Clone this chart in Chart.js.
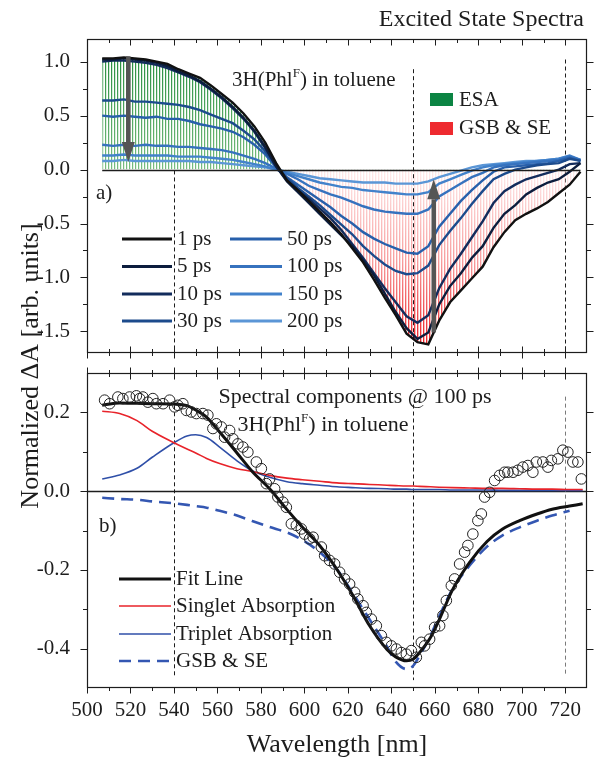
<!DOCTYPE html>
<html><head><meta charset="utf-8">
<script src="https://cdn.jsdelivr.net/npm/chart.js@4.4.0/dist/chart.umd.min.js"></script>
<style>
html,body{margin:0;padding:0;background:#fff;}
#wrap{position:relative;width:597px;height:761px;overflow:hidden;}
#wrap canvas{position:absolute;left:0;top:0;}
</style></head><body>
<div id="wrap"><canvas id="c1" width="597" height="761"></canvas><canvas id="c2" width="597" height="761"></canvas></div>
<script>
// ---------- DATA ----------
const wavelengths = [507,512,517,522,527,532,537,542,547,552,557,562,567,572,577,582,587,592,597,602,607,612,617,622,627,632,637,642,647,652,657,662,667,672,677,682,687,692,697,702,707,712,717,722,727];
const ps1   = [1.03,1.03,1.04,1.03,1.02,1.00,0.98,0.93,0.89,0.85,0.78,0.70,0.62,0.52,0.40,0.25,0.06,-0.10,-0.19,-0.29,-0.39,-0.49,-0.60,-0.73,-0.86,-1.02,-1.19,-1.35,-1.52,-1.60,-1.62,-1.40,-1.23,-1.12,-1.01,-0.90,-0.72,-0.58,-0.47,-0.41,-0.36,-0.30,-0.22,-0.14,-0.02];
const ps5   = [1.02,1.02,1.03,1.02,1.01,0.99,0.96,0.91,0.87,0.82,0.75,0.67,0.58,0.48,0.36,0.21,0.03,-0.11,-0.21,-0.31,-0.41,-0.51,-0.61,-0.71,-0.84,-0.98,-1.15,-1.32,-1.47,-1.57,-1.51,-1.25,-1.08,-0.96,-0.82,-0.71,-0.54,-0.41,-0.33,-0.23,-0.17,-0.12,-0.09,-0.02,0.06];
const ps10  = [1.00,1.01,1.01,1.00,0.99,0.97,0.94,0.90,0.86,0.81,0.74,0.66,0.57,0.47,0.35,0.20,0.03,-0.10,-0.19,-0.27,-0.36,-0.45,-0.56,-0.69,-0.82,-0.96,-1.10,-1.23,-1.36,-1.42,-1.35,-1.10,-0.92,-0.78,-0.63,-0.48,-0.31,-0.20,-0.14,-0.09,-0.06,-0.03,0.00,0.05,0.06];
const ps30  = [0.64,0.64,0.65,0.63,0.63,0.62,0.61,0.60,0.58,0.55,0.51,0.47,0.43,0.36,0.28,0.17,0.03,-0.08,-0.17,-0.25,-0.33,-0.42,-0.51,-0.60,-0.71,-0.80,-0.88,-0.94,-0.97,-0.96,-0.89,-0.70,-0.57,-0.45,-0.32,-0.20,-0.09,-0.04,0.00,0.02,0.04,0.05,0.06,0.10,0.08];
const ps50  = [0.50,0.49,0.50,0.49,0.48,0.49,0.47,0.47,0.45,0.42,0.40,0.38,0.35,0.30,0.23,0.14,0.02,-0.07,-0.14,-0.21,-0.28,-0.35,-0.43,-0.50,-0.58,-0.64,-0.69,-0.73,-0.77,-0.78,-0.71,-0.53,-0.41,-0.29,-0.19,-0.10,-0.02,0.02,0.03,0.04,0.05,0.06,0.08,0.11,0.08];
const ps100 = [0.23,0.22,0.23,0.22,0.23,0.22,0.22,0.21,0.21,0.20,0.19,0.18,0.16,0.13,0.10,0.06,0.01,-0.04,-0.09,-0.15,-0.19,-0.23,-0.26,-0.30,-0.34,-0.37,-0.39,-0.40,-0.41,-0.41,-0.37,-0.25,-0.19,-0.13,-0.07,-0.03,0.02,0.04,0.05,0.06,0.07,0.08,0.09,0.12,0.09];
const ps150 = [0.13,0.13,0.14,0.13,0.13,0.13,0.13,0.12,0.12,0.12,0.11,0.10,0.09,0.07,0.05,0.03,0.00,-0.03,-0.06,-0.09,-0.12,-0.14,-0.16,-0.17,-0.19,-0.20,-0.21,-0.22,-0.23,-0.23,-0.21,-0.13,-0.09,-0.05,-0.01,0.02,0.04,0.05,0.06,0.07,0.08,0.09,0.10,0.13,0.09];
const ps200 = [0.08,0.08,0.09,0.08,0.08,0.08,0.08,0.08,0.08,0.07,0.07,0.06,0.05,0.04,0.03,0.02,0.00,-0.02,-0.04,-0.06,-0.08,-0.09,-0.10,-0.11,-0.12,-0.12,-0.12,-0.13,-0.13,-0.13,-0.11,-0.07,-0.04,-0.01,0.02,0.04,0.05,0.06,0.07,0.08,0.08,0.09,0.10,0.12,0.08];
const delayLabels = ['1 ps','5 ps','10 ps','30 ps','50 ps','100 ps','150 ps','200 ps'];
const delayColors = ['#111111','#0c1d3d','#132c5c','#1c4b8c','#2860ab','#3672be','#4282cb','#5b96d6'];

const compWl  = [507,515,523,530,540,546,550,555,561,569,576,584,592,599,607,615,622,630,638,642,647,650,653,658,662,668,676,684,691,699,707,714,722,728];
const fitLine = [0.218,0.224,0.223,0.222,0.221,0.217,0.206,0.188,0.150,0.097,0.050,0.006,-0.047,-0.091,-0.138,-0.199,-0.262,-0.342,-0.402,-0.421,-0.431,-0.427,-0.410,-0.372,-0.327,-0.252,-0.181,-0.128,-0.097,-0.075,-0.058,-0.046,-0.038,-0.032];
const singlet = [0.203,0.197,0.179,0.152,0.123,0.107,0.097,0.083,0.070,0.057,0.050,0.040,0.033,0.029,0.025,0.021,0.019,0.017,0.015,0.014,0.013,0.013,0.012,0.011,0.010,0.009,0.008,0.007,0.007,0.006,0.005,0.005,0.004,0.004];
const triplet = [0.031,0.041,0.058,0.086,0.123,0.140,0.143,0.136,0.112,0.077,0.052,0.035,0.024,0.019,0.015,0.011,0.009,0.007,0.006,0.005,0.005,0.004,0.004,0.004,0.004,0.003,0.003,0.003,0.002,0.002,0.002,0.002,0.002,0.002];
const gsbSe   = [-0.017,-0.020,-0.022,-0.026,-0.031,-0.035,-0.038,-0.042,-0.050,-0.062,-0.076,-0.091,-0.105,-0.124,-0.155,-0.199,-0.257,-0.326,-0.395,-0.433,-0.452,-0.444,-0.418,-0.367,-0.318,-0.250,-0.189,-0.141,-0.113,-0.092,-0.075,-0.062,-0.050,null];

const circWl  = [508.1,510.4,514.2,516.5,519.6,522.7,524.2,525.7,528.0,530.3,531.9,535.0,538.0,540.3,541.8,544.1,545.7,548.0,550.3,553.3,555.6,557.9,559.5,561.8,563.3,565.6,567.1,569.4,571.7,574.0,577.9,580.2,582.5,584.0,586.3,587.8,590.1,591.7,594.0,596.3,598.6,600.1,602.4,604.0,607.8,609.3,611.6,613.9,616.2,618.5,620.8,623.1,624.6,627.0,628.5,630.8,633.1,635.4,637.7,640.0,642.3,644.6,646.9,649.2,651.5,653.8,655.3,657.6,659.9,662.2,663.7,665.3,667.6,669.1,671.4,673.7,675.2,677.5,679.8,681.4,682.9,685.2,687.5,689.8,692.1,693.6,696.0,698.2,700.5,702.8,705.1,706.7,709.7,712.0,713.6,716.6,718.9,721.2,723.5,725.8,727.4];
const circVal = [0.231,0.222,0.239,0.235,0.239,0.242,0.235,0.239,0.226,0.235,0.222,0.222,0.231,0.214,0.218,0.222,0.205,0.201,0.197,0.197,0.193,0.159,0.171,0.163,0.137,0.154,0.133,0.120,0.112,0.099,0.074,0.057,0.019,0.031,0.006,-0.015,-0.028,-0.041,-0.083,-0.087,-0.096,-0.109,-0.121,-0.117,-0.142,-0.164,-0.176,-0.185,-0.206,-0.223,-0.236,-0.257,-0.274,-0.291,-0.308,-0.325,-0.342,-0.367,-0.384,-0.393,-0.401,-0.410,-0.414,-0.405,-0.422,-0.384,-0.393,-0.376,-0.346,-0.342,-0.316,-0.278,-0.240,-0.223,-0.185,-0.155,-0.138,-0.109,-0.075,-0.058,-0.015,-0.003,0.027,0.040,0.048,0.048,0.048,0.053,0.061,0.065,0.048,0.074,0.074,0.061,0.078,0.082,0.104,0.099,0.074,0.074,0.031];

const xTickValues = [500,520,540,560,580,600,620,640,660,680,700,720];
const xMinorValues = [510,530,550,570,590,610,630,650,670,690,710];
const topYTicks = [1.0,0.5,0.0,-0.5,-1.0,-1.5];
const topYMinor = [0.75,0.25,-0.25,-0.75,-1.25];
const botYTicks = [0.2,0.0,-0.2,-0.4];
const botYMinor = [0.1,-0.1,-0.3];
const markerWl = [540,650,720];

// ---------- HELPERS ----------
const FONT = "'Liberation Serif','Times New Roman',serif";
const INK = '#1d1d1d';
const pts = (xs, ys) => xs.map((x, i) => ({x: x, y: ys[i]}));

function hatchPattern(chart) {
  if (chart.$hatch) return chart.$hatch;
  const ys = chart.scales && chart.scales.y;
  if (!ys || !chart.chartArea) return 'rgba(0,0,0,0)';
  const H = chart.height;
  const c = document.createElement('canvas'); c.width = 3; c.height = H;
  const g = c.getContext('2d');
  const y0 = ys.getPixelForValue(0), yT = ys.getPixelForValue(1.05), yB = ys.getPixelForValue(-1.65);
  const gg = g.createLinearGradient(0, yT, 0, y0);
  gg.addColorStop(0, 'rgb(40,142,64)'); gg.addColorStop(1, 'rgb(120,190,128)');
  g.fillStyle = gg; g.fillRect(0, 0, 1, y0);
  g.globalAlpha = 0.22; g.fillRect(1, 0, 1, y0); g.globalAlpha = 1;
  const rg = g.createLinearGradient(0, y0, 0, yB);
  rg.addColorStop(0, 'rgb(255,236,236)'); rg.addColorStop(0.5, 'rgb(248,160,160)'); rg.addColorStop(1, 'rgb(236,28,34)');
  g.fillStyle = rg; g.fillRect(0, y0, 1, H - y0);
  g.globalAlpha = 0.35; g.fillRect(1, y0, 1, H - y0);
  chart.$hatch = chart.ctx.createPattern(c, 'repeat');
  return chart.$hatch;
}

function crisp(v) { return Math.round(v) + 0.5; }

function drawFrameTicks(chart, cfg) {
  const ctx = chart.ctx, a = chart.chartArea, xs = chart.scales.x, ys = chart.scales.y;
  const L = crisp(a.left), R = crisp(a.right) - 1, T = crisp(a.top), B = crisp(a.bottom) - 1;
  ctx.save();
  ctx.strokeStyle = INK; ctx.lineWidth = 1.2; ctx.setLineDash([]);
  ctx.strokeRect(L, T, R - L, B - T);
  ctx.lineWidth = 1;
  ctx.beginPath();
  const xt = (vals, len) => vals.forEach(v => {
    const px = crisp(xs.getPixelForValue(v));
    ctx.moveTo(px, T - len * cfg.top[0]); ctx.lineTo(px, T + len * cfg.top[1]);
    ctx.moveTo(px, B - len * cfg.bottom[1]); ctx.lineTo(px, B + len * cfg.bottom[0]);
  });
  xt(xTickValues, 6); xt(xMinorValues, 3.5);
  const yt = (vals, len) => vals.forEach(v => {
    const py = crisp(ys.getPixelForValue(v));
    ctx.moveTo(L - len, py); ctx.lineTo(L, py);
    ctx.moveTo(R, py); ctx.lineTo(R + len, py);
  });
  yt(cfg.yMajor, 7); yt(cfg.yMinor, 4.5);
  ctx.stroke();
  ctx.restore();
}

function drawDashed(chart, spans) {
  const ctx = chart.ctx, xs = chart.scales.x, ys = chart.scales.y;
  ctx.save(); ctx.lineWidth = 1; ctx.setLineDash([4, 3]);
  spans.forEach(s => {
    const px = crisp(xs.getPixelForValue(s.wl));
    ctx.strokeStyle = s.color || INK;
    ctx.beginPath(); ctx.moveTo(px, ys.getPixelForValue(s.from)); ctx.lineTo(px, ys.getPixelForValue(s.to)); ctx.stroke();
  });
  ctx.restore();
}

function drawZero(chart, fromWl, toWl) {
  const ctx = chart.ctx, xs = chart.scales.x, ys = chart.scales.y;
  const py = crisp(ys.getPixelForValue(0));
  ctx.save(); ctx.strokeStyle = INK; ctx.lineWidth = 1.3;
  ctx.beginPath(); ctx.moveTo(xs.getPixelForValue(fromWl), py); ctx.lineTo(xs.getPixelForValue(toWl), py); ctx.stroke();
  ctx.restore();
}

function drawArrow(chart, wl, fromV, toV) {
  const ctx = chart.ctx, xs = chart.scales.x, ys = chart.scales.y;
  const x = xs.getPixelForValue(wl), y1 = ys.getPixelForValue(fromV), y2 = ys.getPixelForValue(toV);
  const dir = Math.sign(y2 - y1), headL = 20, headW = 13, shaftW = 4.5;
  ctx.save(); ctx.fillStyle = '#555555';
  ctx.fillRect(x - shaftW / 2, Math.min(y1, y2 - dir * headL), shaftW, Math.abs(y2 - dir * headL - y1));
  ctx.beginPath(); ctx.moveTo(x, y2); ctx.lineTo(x - headW / 2, y2 - dir * headL); ctx.lineTo(x + headW / 2, y2 - dir * headL); ctx.closePath(); ctx.fill();
  ctx.restore();
}

function txt(ctx, s, x, y, size, align) {
  ctx.font = size + 'px ' + FONT; ctx.textAlign = align || 'left'; ctx.textBaseline = 'middle'; ctx.fillStyle = INK;
  ctx.fillText(s, x, y);
}

function supText(ctx, x, y, size, center) {
  const parts = [['3H(Phl', 0], ['F', 1], [') in toluene', 0]];
  let w = 0;
  parts.forEach(p => { ctx.font = (p[1] ? Math.round(size * 0.6) : size) + 'px ' + FONT; w += ctx.measureText(p[0]).width; });
  let cx = center ? x - w / 2 : x;
  ctx.textAlign = 'left'; ctx.textBaseline = 'alphabetic'; ctx.fillStyle = INK;
  const base = y + size * 0.33;
  parts.forEach(p => {
    const sz = p[1] ? Math.round(size * 0.6) : size;
    ctx.font = sz + 'px ' + FONT;
    ctx.fillText(p[0], cx, p[1] ? base - size * 0.42 : base);
    cx += ctx.measureText(p[0]).width;
  });
}

// ---------- TOP PANEL ----------
const series = [ps1, ps5, ps10, ps30, ps50, ps100, ps150, ps200];
const topDatasets = series.map((s, i) => ({
  label: delayLabels[i], data: pts(wavelengths, s), borderColor: delayColors[i],
  borderWidth: 2.4, pointRadius: 0, fill: false, tension: 0, order: i
}));
topDatasets.push({
  label: 'hatch', data: pts(wavelengths, ps1), borderColor: 'rgba(0,0,0,0)', borderWidth: 1,
  pointRadius: 0, tension: 0, fill: 'origin', backgroundColor: c => hatchPattern(c.chart), order: 100
});

const topPlugin = {
  id: 'topDecor',
  beforeDatasetsDraw(chart) {
    drawDashed(chart, [{wl: markerWl[0], from: 0.9, to: -1.7}, {wl: markerWl[1], from: 0.93, to: -1.7}, {wl: markerWl[2], from: 1.02, to: -1.7}]);
  },
  afterDatasetsDraw(chart) {
    drawZero(chart, 507, 727);
    drawArrow(chart, 519, 1.05, 0.07);
    drawArrow(chart, 659.5, -1.51, -0.09);
  },
  afterDraw(chart) {
    const ctx = chart.ctx;
    drawFrameTicks(chart, {top: [0, 1], bottom: [1, 1], yMajor: topYTicks, yMinor: topYMinor});
    txt(ctx, 'Excited State Spectra', 584, 20, 24, 'right');
    supText(ctx, 232, 79, 21, false);
    ctx.fillStyle = '#0b8443'; ctx.fillRect(430, 93, 23, 13);
    ctx.fillStyle = '#ee2a2f'; ctx.fillRect(430, 122, 23, 13);
    txt(ctx, 'ESA', 459, 100, 21);
    txt(ctx, 'GSB & SE', 459, 128.5, 21);
    txt(ctx, 'a)', 96, 193, 21);
    const rows = [239, 266.5, 294, 321];
    delayLabels.forEach((lab, i) => {
      const col = i < 4 ? 0 : 1, r = i % 4;
      const x0 = col ? 230 : 122, x1 = col ? 282 : 172, tx = col ? 287 : 177;
      ctx.save(); ctx.strokeStyle = delayColors[i]; ctx.lineWidth = 3;
      ctx.beginPath(); ctx.moveTo(x0, rows[r]); ctx.lineTo(x1, rows[r]); ctx.stroke(); ctx.restore();
      txt(ctx, lab, tx, rows[r], 21);
    });
  }
};

new Chart(document.getElementById('c1'), {
  type: 'line',
  data: {datasets: topDatasets},
  options: {
    responsive: false, animation: false, devicePixelRatio: 1, events: [],
    layout: {padding: {top: 39, right: 10, bottom: 408, left: 0}},
    plugins: {legend: {display: false}, tooltip: {enabled: false}, colors: {enabled: false}},
    scales: {
      x: {type: 'linear', min: 500, max: 730, display: false},
      y: {
        type: 'linear', min: -1.7, max: 1.21,
        afterBuildTicks: s => { s.ticks = topYTicks.map(v => ({value: v})); },
        afterFit: s => { s.width = 87; },
        grid: {display: false}, border: {display: false},
        ticks: {font: {family: FONT, size: 21}, color: INK, padding: 9, callback: v => v.toFixed(1)}
      }
    }
  },
  plugins: [topPlugin]
});

// ---------- BOTTOM PANEL ----------
const botPlugin = {
  id: 'botDecor',
  beforeDatasetsDraw(chart) {
    drawZero(chart, 500, 730);
    drawDashed(chart, [{wl: markerWl[0], from: 0.218, to: -0.469}, {wl: markerWl[1], from: 0.22, to: -0.48}, {wl: markerWl[2], from: 0.24, to: -0.469, color: '#7a7a7a'}]);
  },
  afterDraw(chart) {
    const ctx = chart.ctx;
    drawFrameTicks(chart, {top: [1, 1], bottom: [1, 0], yMajor: botYTicks, yMinor: botYMinor});
    txt(ctx, 'Spectral components @ 100 ps', 355, 397, 22, 'center');
    supText(ctx, 323, 424, 22, true);
    txt(ctx, 'b)', 99, 526, 21);
    const rows = [579, 606, 634, 661];
    const labs = ['Fit Line', 'Singlet Absorption', 'Triplet Absorption', 'GSB & SE'];
    const ds = chart.data.datasets;
    labs.forEach((lab, i) => {
      const d = ds[i];
      ctx.save(); ctx.strokeStyle = d.borderColor; ctx.lineWidth = d.borderWidth;
      ctx.setLineDash(d.borderDash || []);
      ctx.beginPath(); ctx.moveTo(119, rows[i]); ctx.lineTo(171, rows[i]); ctx.stroke(); ctx.restore();
      txt(ctx, lab, 176, rows[i], 21);
    });
    ctx.save(); ctx.translate(31, 366); ctx.rotate(-Math.PI / 2);
    txt(ctx, 'Normalized \u0394A [arb. units]', 0, 0, 26, 'center');
    ctx.restore();
  }
};

new Chart(document.getElementById('c2'), {
  type: 'line',
  data: {datasets: [
    {label: 'Fit Line', data: pts(compWl, fitLine), borderColor: '#111111', borderWidth: 3, pointRadius: 0, cubicInterpolationMode: 'monotone', order: 2},
    {label: 'Singlet Absorption', data: pts(compWl, singlet), borderColor: '#e8232a', borderWidth: 1.6, pointRadius: 0, cubicInterpolationMode: 'monotone', order: 3},
    {label: 'Triplet Absorption', data: pts(compWl, triplet), borderColor: '#2f4fa8', borderWidth: 1.6, pointRadius: 0, cubicInterpolationMode: 'monotone', order: 4},
    {label: 'GSB & SE', data: pts(compWl, gsbSe), borderColor: '#3457b2', borderWidth: 2.6, borderDash: [12, 7], pointRadius: 0, cubicInterpolationMode: 'monotone', order: 5},
    {label: 'Data', data: pts(circWl, circVal), showLine: false, pointRadius: 5.3, pointBorderWidth: 1, pointBorderColor: '#222222', pointBackgroundColor: 'rgba(255,255,255,0)', order: 1}
  ]},
  options: {
    responsive: false, animation: false, devicePixelRatio: 1, events: [],
    layout: {padding: {top: 373, right: 10, bottom: 0, left: 0}},
    plugins: {legend: {display: false}, tooltip: {enabled: false}, colors: {enabled: false}},
    scales: {
      x: {
        type: 'linear', min: 500, max: 730,
        afterBuildTicks: s => { s.ticks = xTickValues.map(v => ({value: v})); },
        afterFit: s => { s.height = 73; },
        grid: {display: false}, border: {display: false},
        ticks: {font: {family: FONT, size: 21}, color: INK, padding: 2, maxRotation: 0, autoSkip: false, callback: v => String(v)},
        title: {display: true, text: 'Wavelength [nm]', font: {family: FONT, size: 26}, color: INK, padding: {top: 0, bottom: 0}}
      },
      y: {
        type: 'linear', min: -0.5, max: 0.3,
        afterBuildTicks: s => { s.ticks = botYTicks.map(v => ({value: v})); },
        afterFit: s => { s.width = 87; },
        grid: {display: false}, border: {display: false},
        ticks: {font: {family: FONT, size: 21}, color: INK, padding: 9, callback: v => v.toFixed(1)}
      }
    }
  },
  plugins: [botPlugin]
});
</script>
</body></html>
